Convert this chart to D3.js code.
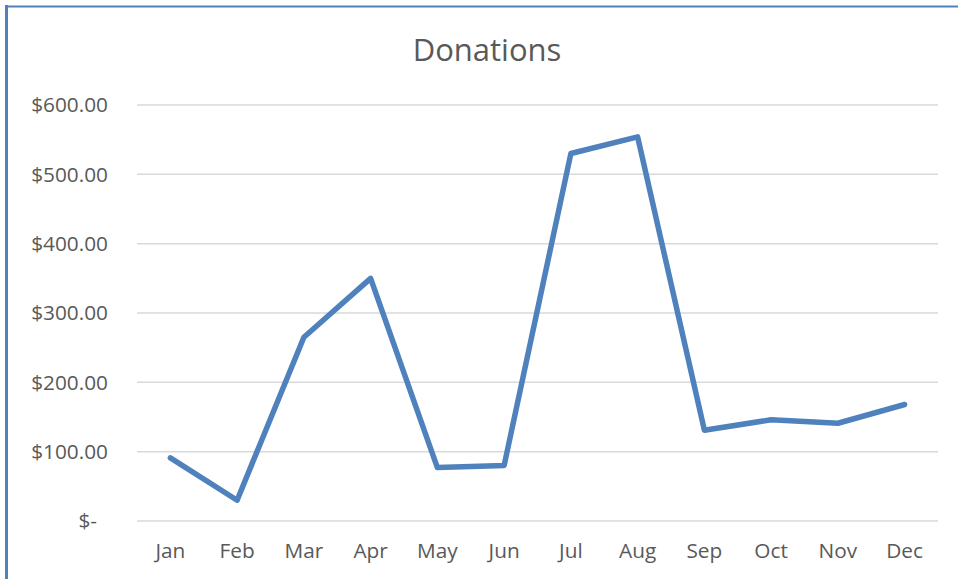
<!DOCTYPE html>
<html>
<head>
<meta charset="utf-8">
<script src="https://cdn.jsdelivr.net/npm/d3@7"></script>
<style>
  body { margin: 0; background: #fff; }
  text { font-family: "Open Sans", "Noto Sans", sans-serif; fill: #595959; }
</style>
</head>
<body>
<div id="chart"></div>
<script>
var months = ["Jan", "Feb", "Mar", "Apr", "May", "Jun", "Jul", "Aug", "Sep", "Oct", "Nov", "Dec"];
var donations = [91, 30, 265, 350, 77, 80, 530, 554, 131, 146, 141, 168];
var yTicks = [0, 100, 200, 300, 400, 500, 600];

var w = 959, h = 579;
var margin = { left: 137, right: 21, top: 105, bottom: 58 };

var svg = d3.select("#chart").append("svg")
    .attr("width", w)
    .attr("height", h);

// outer frame (left + top edges visible)
svg.append("line").attr("x1", 6.5).attr("x2", 6.5).attr("y1", 5).attr("y2", h)
    .attr("stroke", "#4f81bd").attr("stroke-width", 3);
svg.append("line").attr("x1", 5).attr("x2", w - 1).attr("y1", 6.5).attr("y2", 6.5)
    .attr("stroke", "#4f81bd").attr("stroke-width", 2);

var x = d3.scaleBand().domain(months).range([margin.left, w - margin.right]);
var y = d3.scaleLinear().domain([0, 600]).range([h - margin.bottom, margin.top]);

// gridlines
svg.append("g").selectAll("line").data(yTicks).enter().append("line")
    .attr("x1", margin.left).attr("x2", w - margin.right)
    .attr("y1", function(d) { return y(d); }).attr("y2", function(d) { return y(d); })
    .attr("stroke", "#d9d9d9").attr("stroke-width", 1.5);

// y axis labels
var fmt = d3.format(",.2f");
svg.append("g").selectAll("text").data(yTicks).enter().append("text")
    .attr("x", function(d) { return d === 0 ? 97 : 108; })
    .attr("y", function(d) { return y(d); })
    .attr("dy", "0.35em")
    .attr("text-anchor", "end")
    .style("font-size", "20.8px")
    .text(function(d) { return d === 0 ? "$-" : "$" + fmt(d); });

// x axis labels
svg.append("g").selectAll("text").data(months).enter().append("text")
    .attr("x", function(d) { return x(d) + x.bandwidth() / 2; })
    .attr("y", 558)
    .attr("text-anchor", "middle")
    .style("font-size", "20.8px")
    .text(function(d) { return d; });

// line
var line = d3.line()
    .x(function(d, i) { return x(months[i]) + x.bandwidth() / 2; })
    .y(function(d) { return y(d); });

svg.append("path").datum(donations)
    .attr("d", line)
    .attr("fill", "none")
    .attr("stroke", "#4f81bd")
    .attr("stroke-width", 5.5)
    .attr("stroke-linejoin", "round")
    .attr("stroke-linecap", "round");

// title
svg.append("text").text("Donations")
    .attr("x", 487).attr("y", 61)
    .attr("text-anchor", "middle")
    .style("font-size", "31px");
</script>
</body>
</html>
